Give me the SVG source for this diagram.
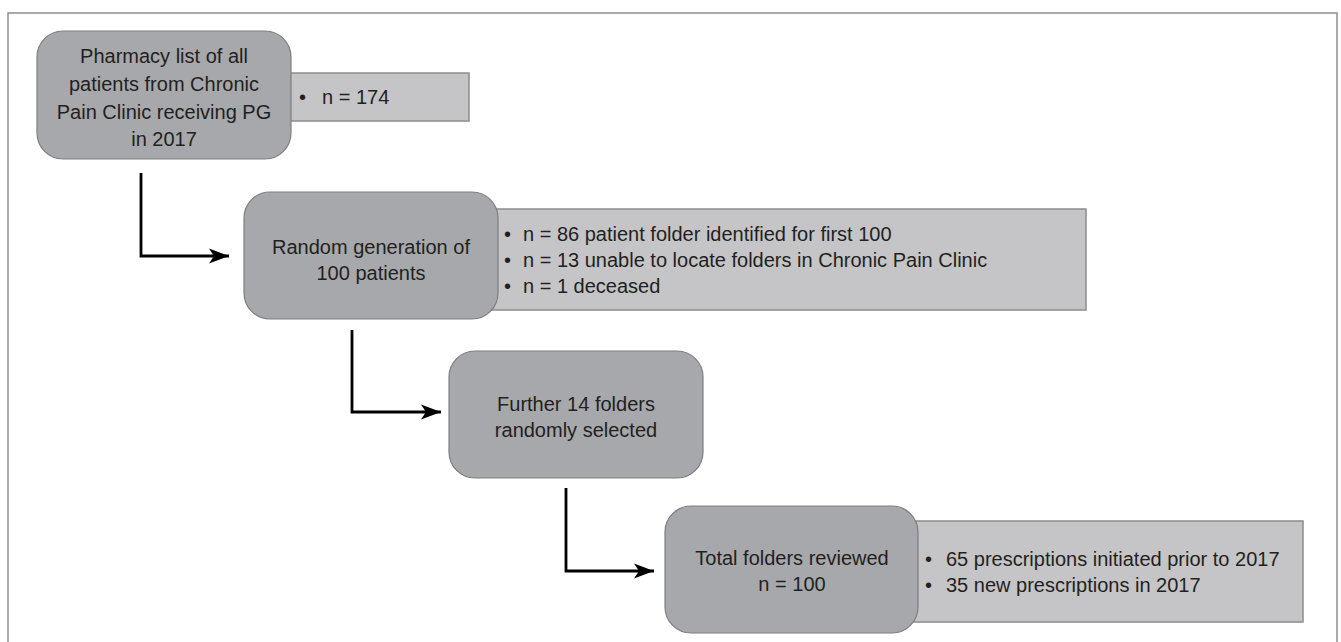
<svg xmlns="http://www.w3.org/2000/svg" width="1341" height="642" viewBox="0 0 1341 642">
<style>
.frame{fill:#fff;stroke:#8f8f8f;stroke-width:1.5}
.node{fill:#a7a8ab;stroke:#7d7e80;stroke-width:1.2}
.side{fill:#c5c5c7;stroke:#8c8c8e;stroke-width:1.5}
.t{font-family:"Liberation Sans",Arial,sans-serif;font-size:20px;fill:#231f20}
.c{text-anchor:middle}
.conn{fill:none;stroke:#000;stroke-width:2.8}
</style>
<defs>
<marker id="arr" markerUnits="userSpaceOnUse" markerWidth="24" markerHeight="18" refX="20" refY="9" orient="auto">
<path d="M0,1.5 L20,9 L0,16.5 L5,9 Z" fill="#000"/>
</marker>
</defs>
<rect class="frame" x="8" y="13" width="1329" height="640"/>
<g id="connectors">
<path class="conn" d="M141,173 V256 H229" marker-end="url(#arr)"/>
<path class="conn" d="M352,330 V412 H441" marker-end="url(#arr)"/>
<path class="conn" d="M566,488 V571 H654" marker-end="url(#arr)"/>
</g>
<g id="side1">
<rect class="side" x="285" y="73" width="184" height="48"/>
<text class="t" x="299" y="104">•</text>
<text class="t" x="322" y="104">n = 174</text>
</g>
<g id="node1">
<rect class="node" x="37" y="31" width="254" height="128" rx="26"/>
<text class="t c" x="164" y="63">Pharmacy list of all</text>
<text class="t c" x="164" y="91">patients from Chronic</text>
<text class="t c" x="164" y="119">Pain Clinic receiving PG</text>
<text class="t c" x="164" y="146">in 2017</text>
</g>
<g id="side2">
<rect class="side" x="490" y="209" width="596" height="101"/>
<text class="t" x="504" y="241">•</text>
<text class="t" x="523" y="241">n = 86 patient folder identified for first 100</text>
<text class="t" x="504" y="267">•</text>
<text class="t" x="523" y="267">n = 13 unable to locate folders in Chronic Pain Clinic</text>
<text class="t" x="504" y="293">•</text>
<text class="t" x="523" y="293">n = 1 deceased</text>
</g>
<g id="node2">
<rect class="node" x="244" y="192" width="254" height="127" rx="26"/>
<text class="t c" x="371" y="254">Random generation of</text>
<text class="t c" x="371" y="280">100 patients</text>
</g>
<g id="node3">
<rect class="node" x="449" y="351" width="254" height="127" rx="26"/>
<text class="t c" x="576" y="411">Further 14 folders</text>
<text class="t c" x="576" y="437">randomly selected</text>
</g>
<g id="side4">
<rect class="side" x="905" y="521" width="398" height="101"/>
<text class="t" x="925" y="566">•</text>
<text class="t" x="946" y="566">65 prescriptions initiated prior to 2017</text>
<text class="t" x="925" y="592">•</text>
<text class="t" x="946" y="592">35 new prescriptions in 2017</text>
</g>
<g id="node4">
<rect class="node" x="665" y="506" width="253" height="127" rx="26"/>
<text class="t c" x="792" y="565">Total folders reviewed</text>
<text class="t c" x="792" y="591">n = 100</text>
</g>
</svg>
